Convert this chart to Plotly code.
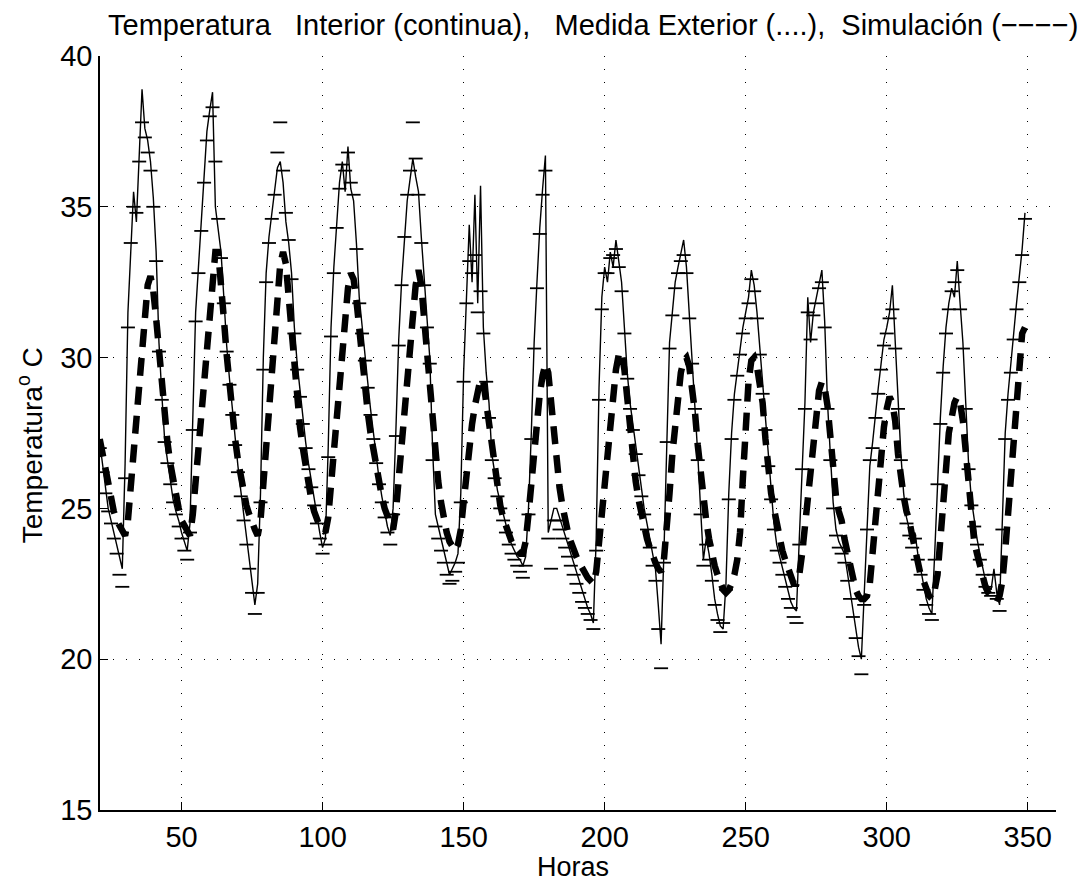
import plotly.graph_objects as go

hours = list(range(21, 350))

interior = [
    27.2, 26.4, 25.6, 25.0, 24.6, 24.2, 23.8, 23.3, 23.0, 26.5,
    31.5, 33.5, 35.5, 34.5, 36.8, 38.9, 37.6, 37.2, 36.5, 35.3,
    33.5, 30.5, 28.8, 27.3, 26.6, 25.9, 25.3, 24.9, 24.6, 24.2,
    23.9, 23.6, 24.5, 28.0, 31.5, 33.0, 34.5, 36.0, 37.5, 38.2,
    38.8, 35.0, 34.2, 33.5, 32.0, 30.4, 29.3, 28.3, 27.3, 26.4,
    25.6, 24.8, 24.0, 23.2, 22.4, 21.8, 22.5, 25.5, 30.0, 32.8,
    34.0, 34.8, 35.6, 36.3, 36.5, 35.8, 34.5, 33.8, 32.8, 31.0,
    29.8, 28.9, 28.0, 27.2, 26.5, 25.9, 25.3, 24.7, 24.2, 23.7,
    24.0, 27.0, 31.0, 33.0, 34.5, 35.8, 36.5, 35.5, 37.0, 35.6,
    35.2, 33.8, 32.0, 31.0, 30.1, 29.2, 28.3, 27.5, 26.7, 26.0,
    25.4, 24.9, 24.4, 24.1, 25.0, 27.6, 30.6, 32.5, 34.0, 35.2,
    35.9, 36.6, 36.0, 35.5, 34.0, 32.6, 31.2, 30.0, 27.0, 24.8,
    24.4, 24.0, 23.6, 23.2, 22.8, 23.0, 23.2, 23.5, 25.5, 29.5,
    32.0, 34.4, 32.5, 35.4, 31.8, 35.7, 31.0, 29.5, 28.5, 26.8,
    26.2, 25.6, 25.2, 24.8, 24.5, 24.1, 23.8, 23.6, 23.4, 23.3,
    23.1, 23.4, 25.0, 27.5, 30.5, 32.5, 34.3, 35.6, 36.7, 24.2,
    24.6, 25.0, 25.0, 24.7, 24.4, 24.1, 23.8, 23.5, 23.2, 22.9,
    22.6, 22.3, 22.0, 21.7, 21.5, 21.2, 24.0, 29.0, 32.0, 33.0,
    32.5, 33.5, 33.0, 33.9, 33.2, 32.5, 31.0, 29.5, 28.5, 27.8,
    27.0, 26.3, 25.6, 25.0, 24.5, 24.0, 23.5, 23.0, 21.8, 20.5,
    23.5, 27.5, 30.5, 31.5, 32.5, 33.0, 33.4, 33.9, 33.0, 31.5,
    30.0, 28.5, 26.8, 25.0, 23.3, 24.0, 23.5, 22.8, 22.0, 21.5,
    21.1, 21.0, 22.5, 25.5, 27.5, 28.8, 29.6, 30.3, 31.0, 31.5,
    32.0, 32.9, 32.4, 31.5, 30.3, 29.0, 27.8, 26.6, 25.5, 24.5,
    23.8, 23.4, 23.0, 22.6, 22.2, 21.9, 21.7, 21.6, 24.0, 26.5,
    28.5, 32.0, 30.5, 31.5, 32.0, 32.5, 32.9, 31.2, 28.5, 26.8,
    25.2, 24.3, 23.9, 23.7, 23.5, 22.9, 22.3, 21.7, 21.0, 20.4,
    20.0, 22.0, 24.5, 26.4, 27.2, 28.2, 29.0, 29.8, 30.6, 31.0,
    31.5, 32.4, 30.5, 28.5, 26.8, 25.5, 24.7, 24.3, 23.9, 24.2,
    23.5, 23.0, 22.5, 22.0, 21.7, 21.5, 23.5, 26.0, 28.0, 29.7,
    31.0, 31.8, 32.3, 32.0, 33.2, 31.8, 30.5, 28.5, 26.5, 25.3,
    24.6, 24.0, 23.5, 23.0, 22.6, 22.4, 22.3, 23.0, 22.2, 21.8,
    24.5, 27.5, 28.8, 29.7, 30.8, 31.8, 32.7, 33.6, 34.8,
]

exterior = [
    27.0, 26.2, 25.5, 24.9, 24.5, 24.0, 23.5, 22.8, 22.4, 26.0,
    31.0, 33.8, 35.0, 34.8, 36.5, 37.8, 37.3, 36.8, 36.2, 35.0,
    33.2, 30.2, 28.6, 27.2, 26.5, 25.8, 25.2, 24.8, 24.4, 24.0,
    23.6, 23.3, 24.2, 27.6, 31.2, 32.8, 34.2, 35.8, 37.2, 38.0,
    38.3, 36.5, 34.6, 33.3, 31.8, 30.2, 29.1, 28.1, 27.1, 26.2,
    25.4, 24.6, 23.8, 23.0, 22.2, 21.5, 22.2, 25.2, 29.6, 32.5,
    33.8, 34.6, 35.4, 36.8, 37.8, 36.2, 34.8, 33.9, 32.6, 30.8,
    29.6, 28.7, 27.8, 27.0, 26.3, 25.7, 25.1, 24.5, 24.0, 23.5,
    23.8, 26.7, 30.7, 32.8, 34.3, 35.6, 36.4, 36.2, 36.8, 35.8,
    35.4, 33.6, 31.8, 30.8, 29.9, 29.0, 28.1, 27.3, 26.5, 25.8,
    25.2, 24.7, 24.2, 23.8, 24.8, 27.4, 30.4, 32.4, 34.0, 35.4,
    36.2, 37.8, 36.6, 35.4, 33.8, 32.4, 31.0, 29.8, 26.6, 24.4,
    24.0, 23.6, 23.2, 22.8, 22.5, 22.6, 22.9, 23.2, 25.2, 29.2,
    31.8, 33.2, 32.8, 33.4, 31.5, 32.2, 30.8, 29.2, 28.0, 26.6,
    26.0, 25.4, 25.0, 24.6, 24.2, 23.8, 23.5, 23.3, 23.1, 22.9,
    22.7, 23.1, 24.8, 27.3, 30.3, 32.3, 34.1, 35.4, 36.2, 24.0,
    23.0, 24.6, 24.6, 24.3, 24.0, 23.7, 23.4, 23.1, 22.8, 22.5,
    22.2, 21.9, 21.7, 21.5, 21.3, 21.0, 23.6, 28.6, 31.6, 32.8,
    32.8, 33.3, 33.4, 33.6, 33.0, 32.2, 30.8, 29.3, 28.3, 27.6,
    26.8, 26.1, 25.4, 24.8, 24.3, 23.7, 23.1, 22.6, 21.0, 19.7,
    23.2, 27.2, 30.3, 31.4, 32.3, 32.8, 33.2, 33.4, 32.8, 31.3,
    29.8, 28.3, 26.6, 24.8, 23.1, 23.8, 23.3, 22.6, 21.8, 21.3,
    20.9, 21.2, 22.3, 25.3, 27.3, 28.6, 29.4, 30.1, 30.8, 31.3,
    31.8, 32.6, 32.2, 31.3, 30.1, 28.8, 27.6, 26.4, 25.3, 24.3,
    23.6, 23.2, 22.8, 22.4, 22.0, 21.7, 21.4, 21.2, 23.8, 26.3,
    28.3, 31.5, 30.6, 31.4, 31.8, 32.3, 32.5, 31.0, 28.3, 26.6,
    25.0, 24.1, 23.7, 23.5, 23.2, 22.6, 22.0, 21.4, 20.7, 20.1,
    19.5, 21.8, 24.3, 26.6, 27.0, 28.0, 28.8, 29.6, 30.4, 30.8,
    31.3, 31.6, 30.3, 28.3, 26.6, 25.3, 24.5, 24.1, 23.7, 24.0,
    23.3, 22.8, 22.3, 21.8, 21.5, 21.3, 23.3, 25.8, 27.8, 29.5,
    30.8, 31.6, 32.2, 32.5, 32.9, 31.6, 30.3, 28.3, 26.3, 25.1,
    24.4, 23.8, 23.3, 22.8, 22.4, 22.2, 22.1, 22.8, 22.0, 21.6,
    24.3, 27.3, 28.6, 29.5, 30.6, 31.6, 32.5, 33.4, 34.6,
]

simulacion = [
    27.3, 26.8, 26.3, 25.8, 25.3, 24.9, 24.6, 24.4, 24.2, 24.1,
    24.6, 25.7, 26.9, 28.1, 29.3, 30.5, 31.6, 32.4, 32.7, 32.2,
    31.3, 30.2, 29.0, 28.0, 27.2, 26.5, 25.9, 25.4, 25.0, 24.6,
    24.4, 24.2, 24.1, 24.8, 25.9, 27.0, 28.2, 29.4, 30.6, 31.8,
    32.9, 33.5, 33.5, 32.6, 31.3, 30.1, 29.0, 28.1, 27.3, 26.6,
    26.0, 25.5, 25.1, 24.8, 24.5, 24.3, 24.1, 24.6, 25.8, 27.1,
    28.4, 29.7, 31.0, 32.2, 33.1, 33.5, 33.1, 32.0, 30.8, 29.6,
    28.6, 27.7, 27.0, 26.3, 25.7, 25.3, 24.9, 24.6, 24.4, 24.3,
    24.2, 24.7, 25.8, 27.0, 28.2, 29.4, 30.5, 31.5, 32.3, 32.8,
    32.6, 31.9, 30.9, 29.9, 29.0, 28.2, 27.5, 26.9, 26.3, 25.8,
    25.4, 25.0, 24.7, 24.5, 24.3, 24.9, 26.0, 27.1, 28.3, 29.5,
    30.5, 31.5, 32.4, 32.9, 32.4, 31.3, 30.1, 29.0, 27.8, 26.8,
    25.9, 25.2, 24.6, 24.2, 23.9, 23.7, 23.6, 23.8, 24.3, 25.2,
    26.2, 27.0, 27.8, 28.4, 29.0, 29.3, 29.2, 28.5, 27.7, 26.9,
    26.2, 25.6, 25.1, 24.7, 24.4, 24.1, 23.9, 23.7, 23.6, 23.5,
    23.5, 23.9, 24.8, 25.9, 26.9, 27.9, 28.8, 29.4, 29.8, 29.5,
    28.5, 27.4, 26.5, 25.7, 25.1, 24.6, 24.2, 23.9, 23.6, 23.4,
    23.2, 23.0, 22.8, 22.7, 22.6, 22.5, 22.9, 23.9, 25.0, 26.1,
    27.1, 28.0, 28.9, 29.6, 30.1, 30.2, 29.6, 28.6, 27.6, 26.7,
    25.9, 25.3, 24.8, 24.4, 24.0, 23.7, 23.4, 23.2, 23.0, 22.9,
    23.3, 24.2, 25.5, 26.8, 27.9, 28.8, 29.5, 29.9, 30.0, 29.7,
    29.1, 28.2, 27.1, 26.1, 25.2, 24.6, 24.0, 23.5, 23.1, 22.8,
    22.5, 22.3, 22.2, 22.3, 22.5, 22.8, 23.3, 24.2, 26.0, 27.8,
    29.2, 29.9, 30.0, 29.7, 29.2, 28.5, 27.3, 26.2, 25.5, 25.0,
    24.5, 24.0, 23.6, 23.3, 23.0, 22.7, 22.5, 22.5, 22.8, 23.5,
    24.4, 25.5, 26.4, 27.4, 28.3, 28.9, 29.2, 29.0, 28.4, 27.4,
    26.2, 25.4, 24.9, 24.6, 24.0, 23.6, 23.1, 22.6, 22.3, 22.1,
    22.0, 22.0, 22.1, 22.5, 23.6, 24.6, 25.7, 26.7, 27.7, 28.3,
    28.7, 28.5, 27.9, 26.8, 26.0, 25.4, 24.9, 24.6, 24.1, 23.6,
    23.2, 22.8, 22.6, 22.3, 22.1, 22.0, 22.3, 22.8, 23.8, 25.0,
    26.3, 27.5, 28.2, 28.5, 28.7, 28.5, 27.9, 26.9, 25.6, 24.5,
    23.9, 23.5, 23.1, 22.7, 22.4, 22.2, 22.1, 22.0, 21.9, 22.1,
    22.6, 23.6, 24.8, 26.0, 27.5, 28.9, 30.0, 30.8, 31.0,
]

x_ticks = [50, 100, 150, 200, 250, 300, 350]
y_ticks = [15, 20, 25, 30, 35, 40]

title_text = ("Temperatura\u00a0\u00a0\u00a0Interior (continua),\u00a0\u00a0\u00a0"
              "Medida Exterior (....),\u00a0\u00a0Simulación (\u2212\u2212\u2212\u2212)")

fig = go.Figure()
fig.add_trace(go.Scatter(
    x=hours, y=interior, mode="lines",
    line=dict(color="black", width=1.4), name="Interior"))
fig.add_trace(go.Scatter(
    x=hours, y=exterior, mode="markers",
    marker=dict(symbol="line-ew", size=10, color="black",
                line=dict(color="black", width=1.8)),
    name="Exterior"))
fig.add_trace(go.Scatter(
    x=hours, y=simulacion, mode="lines",
    line=dict(color="black", width=6.5, dash="18px,11px"), name="Simulación"))

font_family = "Liberation Sans, Arial, sans-serif"

fig.update_layout(
    width=1082, height=884,
    margin=dict(l=100, r=26, t=56, b=74),
    paper_bgcolor="white", plot_bgcolor="white",
    showlegend=False,
    font=dict(family=font_family, color="black", size=28),
    annotations=[
        dict(text=title_text, xref="paper", yref="paper", x=0.516, y=1.041,
             xanchor="center", yanchor="middle", showarrow=False,
             font=dict(size=29, family=font_family, color="black")),
        dict(text="Temperatura<sup>o</sup> C", xref="paper", yref="paper",
             x=-0.073, y=0.484, xanchor="center", yanchor="middle",
             textangle=-90, showarrow=False,
             font=dict(size=28, family=font_family, color="black")),
        dict(text="Horas", xref="paper", yref="paper", x=0.495, y=-0.075,
             xanchor="center", yanchor="middle", showarrow=False,
             font=dict(size=27, family=font_family, color="black")),
    ],
)

fig.update_xaxes(
    range=[21.1, 360], tickvals=x_ticks, ticktext=[str(v) for v in x_ticks],
    showline=True, linecolor="black", linewidth=1.5, mirror=False,
    ticks="inside", ticklen=8, tickwidth=1.2, tickcolor="black",
    showgrid=True, gridcolor="black", gridwidth=1.2, griddash="1px,12px",
    zeroline=False, ticklabelstandoff=0,
    tickfont=dict(size=29, family=font_family, color="black"))
fig.update_yaxes(
    range=[15, 40], tickvals=y_ticks, ticktext=[str(v) for v in y_ticks],
    showline=True, linecolor="black", linewidth=1.5, mirror=False,
    ticks="inside", ticklen=8, tickwidth=1.2, tickcolor="black",
    showgrid=True, gridcolor="black", gridwidth=1.2, griddash="1px,12px",
    zeroline=False, ticklabelstandoff=0,
    tickfont=dict(size=29, family=font_family, color="black"))

fig.write_html("out.html")
